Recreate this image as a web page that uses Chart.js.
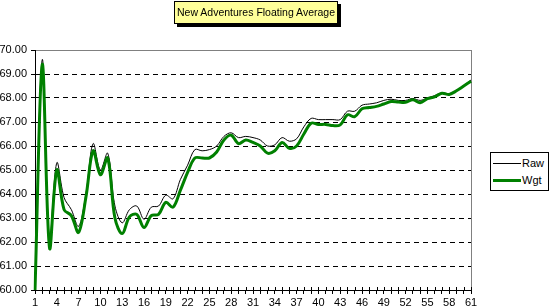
<!DOCTYPE html>
<html><head><meta charset="utf-8">
<script src="https://cdn.jsdelivr.net/npm/chart.js@4"></script>
<style>
html,body{margin:0;padding:0;background:#fff;}
#wrap{position:relative;width:551px;height:308px;overflow:hidden;font-family:"Liberation Sans",Arial,sans-serif;color:#000;}
#c{position:absolute;left:0;top:0;}
#title{position:absolute;left:174px;top:1px;width:162px;height:21px;background:#ffff99;border:1px solid #000;box-shadow:3px 3px 0 #000;font-size:10.5px;line-height:21px;text-align:center;white-space:nowrap;}
#legend{position:absolute;left:490px;top:152px;width:57px;height:37px;border:1px solid #000;background:#fff;font-size:11px;}
.item{position:absolute;left:2px;width:54px;height:12px;line-height:12px;}
.sw{position:absolute;left:0;width:28px;}
.lbl{position:absolute;left:29px;top:0;}
</style></head>
<body>
<div id="wrap">
<canvas id="c" width="551" height="308"></canvas>
<div id="title">New Adventures Floating Average</div>
<div id="legend">
  <div class="item" style="top:4px"><div class="sw" style="top:6px;border-top:1px solid #000"></div><span class="lbl">Raw</span></div>
  <div class="item" style="top:21px"><div class="sw" style="top:5px;border-top:3px solid #008000"></div><span class="lbl">Wgt</span></div>
</div>
</div>
<script>
const categories = ["1","2","3","4","5","6","7","8","9","10","11","12","13","14","15","16","17","18","19","20",
"21","22","23","24","25","26","27","28","29","30","31","32","33","34","35","36","37","38","39","40",
"41","42","43","44","45","46","47","48","49","50","51","52","53","54","55","56","57","58","59","60","61"];

const raw = [
60.0, 69.6, 62.1, 65.3, 63.85, 63.35, 62.65, 64.0, 66.1, 65.0,
65.7, 63.5, 62.8, 63.35, 63.5, 62.95, 63.45, 63.5, 63.95, 63.8,
64.6, 65.2, 65.85, 65.8, 65.85, 66.0, 66.4, 66.55, 66.35, 66.4,
66.35, 66.25, 66.0, 66.05, 66.35, 66.2, 66.3, 66.8, 67.15, 67.1,
67.1, 67.1, 67.1, 67.45, 67.45, 67.7, 67.75, 67.8, 67.9, 67.95,
67.9, 67.9, 67.98, 67.9, 68.0, 68.1, 68.22, 68.18, 68.32, 68.52,
68.75];

const wgt = [
60.0, 69.4, 61.75, 65.0, 63.35, 63.1, 62.4, 63.85, 65.8, 64.8,
65.5, 63.0, 62.35, 63.05, 63.15, 62.6, 63.1, 63.15, 63.65, 63.45,
64.15, 64.9, 65.5, 65.5, 65.5, 65.75, 66.25, 66.45, 66.1, 66.25,
66.15, 66.0, 65.7, 65.8, 66.15, 65.9, 66.0, 66.5, 66.95, 66.9,
66.9, 66.85, 66.88, 67.3, 67.22, 67.55, 67.6, 67.65, 67.75, 67.85,
67.83, 67.82, 67.93, 67.8, 67.97, 68.05, 68.2, 68.15, 68.3, 68.5,
68.7];

const seriesNames = ["Raw", "Wgt"];
const yMin = 60, yMax = 70, yStep = 1;

const FONT = {family: "'Liberation Sans', Arial, sans-serif", size: 11};

const frame = {
  id: 'frame',
  beforeDatasetsDraw(chart) {
    const {ctx, chartArea: a, scales: {x}} = chart;
    ctx.save();
    ctx.lineWidth = 1;
    ctx.strokeStyle = '#808080';
    ctx.beginPath();
    const r = Math.round(a.right) + 0.5;
    ctx.moveTo(r, a.top);
    ctx.lineTo(r, a.bottom);
    ctx.stroke();
    ctx.strokeStyle = '#000';
    ctx.beginPath();
    for (let i = 0; i < x.ticks.length; i++) {
      const px = Math.round(x.getPixelForTick(i)) + 0.5;
      ctx.moveTo(px, a.bottom - 3);
      ctx.lineTo(px, a.bottom);
    }
    ctx.stroke();
    ctx.restore();
  }
};

new Chart(document.getElementById('c'), {
  type: 'line',
  data: {
    labels: categories,
    datasets: [
      {label: seriesNames[0], data: raw, borderColor: '#000000', borderWidth: 1, pointRadius: 0, tension: 0.35, fill: false, order: 1},
      {label: seriesNames[1], data: wgt, borderColor: '#008000', borderWidth: 3, pointRadius: 0, tension: 0.35, fill: false, order: 0}
    ]
  },
  options: {
    responsive: false,
    animation: false,
    devicePixelRatio: 1,
    layout: {padding: {top: 50, right: 80, left: 0, bottom: 0}},
    plugins: {legend: {display: false}, title: {display: false}, tooltip: {enabled: false}},
    scales: {
      x: {
        type: 'category',
        offset: false,
        grid: {display: true, drawOnChartArea: false, drawTicks: true, tickLength: 4, color: '#000', tickColor: '#000'},
        border: {display: true, color: '#000', width: 1},
        ticks: {
          autoSkip: false, maxRotation: 0, minRotation: 0, padding: 2, color: '#000', font: FONT,
          callback: function (v, i) { return i % 3 === 0 ? this.getLabelForValue(v) : ''; }
        },
        afterFit(s) { s.height = 18; }
      },
      y: {
        min: yMin, max: yMax,
        grid: {
          color: (c) => (c.tick && c.tick.value === yMax) ? '#808080' : '#000000',
          tickColor: '#000', tickLength: 4, lineWidth: 1
        },
        border: {
          display: true, color: '#000', width: 1,
          dash: (c) => (c.tick && (c.tick.value === yMax || c.tick.value === yMin)) ? [] : [5, 4]
        },
        ticks: {stepSize: yStep, padding: 4, color: '#000', font: FONT, callback: (v) => Number(v).toFixed(2)},
        afterFit(s) { s.width = 35; }
      }
    }
  },
  plugins: [frame]
});
</script>
</body></html>
